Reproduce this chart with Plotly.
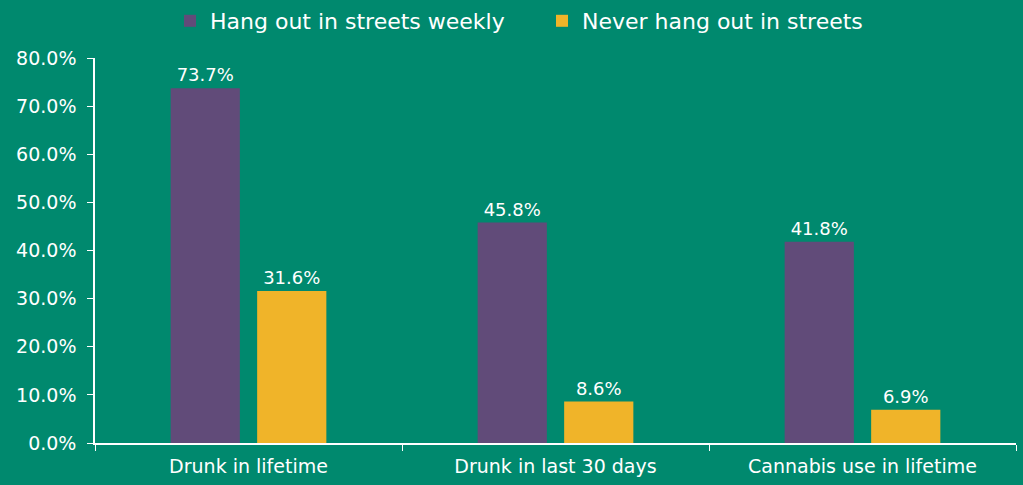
import plotly.graph_objects as go

categories = ["Drunk in lifetime", "Drunk in last 30 days", "Cannabis use in lifetime"]
weekly = [73.7, 45.8, 41.8]
never = [31.6, 8.6, 6.9]
series_names = ["Hang out in streets weekly", "Never hang out in streets"]

BG = "#00896E"
PURPLE = "#614B79"
YELLOW = "#F0B429"
FONT = "DejaVu Sans"

fig = go.Figure()
for name, vals, col in [(series_names[0], weekly, PURPLE), (series_names[1], never, YELLOW)]:
    fig.add_trace(go.Bar(
        x=categories, y=vals, name=name, marker_color=col, marker_line_width=0,
        text=[f"{v:.1f}%" for v in vals], textposition="outside",
        textfont=dict(color="white", size=18, family=FONT),
        cliponaxis=False,
    ))

fig.update_layout(
    width=1023, height=485,
    paper_bgcolor=BG, plot_bgcolor=BG,
    margin=dict(l=95, r=7, t=58, b=42, autoexpand=False),
    barmode="group", bargap=0.4365, bargroupgap=0.2,
    font=dict(family=FONT, color="white", size=19),
    legend=dict(orientation="h", x=170 / 1023, xanchor="left", y=1.0, yanchor="top",
                yref="container", xref="container", font=dict(size=22, color="white"),
                bgcolor="rgba(0,0,0,0)", itemwidth=30, traceorder="normal",
                entrywidth=327, entrywidthmode="pixels"),
    showlegend=True,
)
fig.update_xaxes(showgrid=False, showline=True, linecolor="white", linewidth=1.5,
                 ticks="outside", tickson="boundaries", tickcolor="white", ticklen=6,
                 ticklabelstandoff=5, automargin=False, tickfont=dict(size=19, color="white"))
fig.update_yaxes(range=[0, 80], dtick=10, tickformat=".1f", ticksuffix="%",
                 showgrid=False, zeroline=False, showline=True, linecolor="white", linewidth=1.5,
                 ticks="outside", tickcolor="white", ticklen=6, ticklabelstandoff=7,
                 automargin=False, tickfont=dict(size=19, color="white"))

fig.write_html("out.html")
